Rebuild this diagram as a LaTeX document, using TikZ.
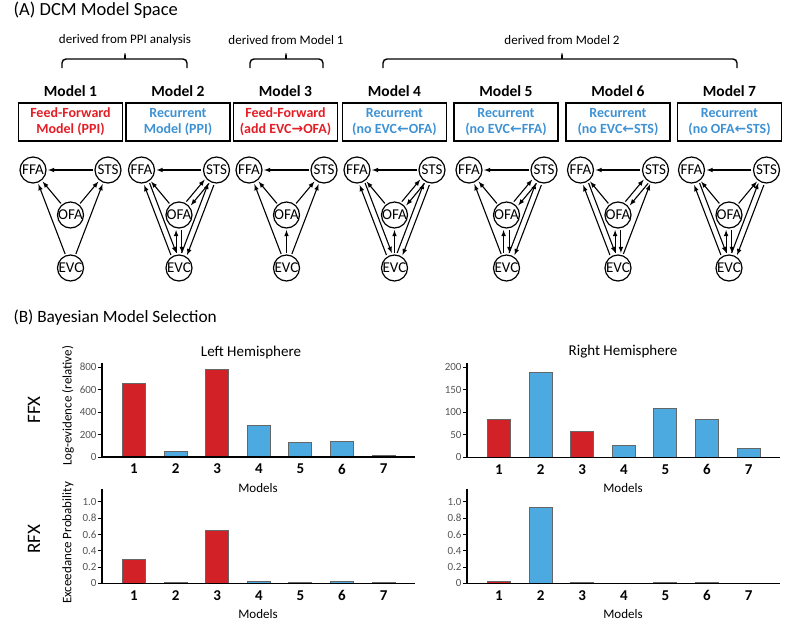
\documentclass[tikz,border=0pt]{standalone}
\usepackage{fontspec}
\setmainfont{Carlito}
\newfontfamily\arrfont{DejaVu Sans}
\usepackage{tikz}
\usetikzlibrary{calc, arrows}
\definecolor{boxred}{RGB}{228,30,38}
\definecolor{boxblue}{RGB}{62,146,212}
\definecolor{barred}{RGB}{210,34,40}
\definecolor{barblue}{RGB}{76,170,224}
\definecolor{ticktext}{RGB}{85,85,85}
\newcommand{\rarr}{{\arrfont\char"2192}}
\newcommand{\larr}{{\arrfont\char"2190}}
% Doppelverbindung (beide Richtungen)
\newcommand{\dbl}[2]{%
  \draw[conn2] ($(#1)!2.9pt!90:(#2)$) -- ($(#2)!2.9pt!-90:(#1)$);
  \draw[conn2] ($(#2)!2.9pt!90:(#1)$) -- ($(#1)!2.9pt!-90:(#2)$);}

\begin{document}
\begin{tikzpicture}[x=1pt, y=-1pt, >=latex,
				area/.style={draw, circle, line width=1.2pt, minimum size=26pt, inner sep=0pt, font=\fontsize{15}{15}\selectfont},
				conn/.style={->, line width=1.1pt, shorten >=1.5pt, shorten <=1.5pt},
				conn2/.style={->, line width=1.1pt, shorten >=15pt, shorten <=15pt},
				mbox/.style={draw, line width=1.4pt, minimum width=104pt, minimum height=38pt, align=center, inner sep=1pt, font=\bfseries\fontsize{14}{16}\selectfont},
				mtitle/.style={font=\bfseries\fontsize{15.5}{18}\selectfont},
				brace/.style={line width=1.4pt, rounded corners=4pt},
				deriv/.style={font=\fontsize{13}{15}\selectfont},
				head/.style={anchor=west, font=\fontsize{17.3}{20}\selectfont},
				bar/.style={draw=black!60, line width=0.9pt},
				axis/.style={line width=1.2pt},
				tickline/.style={line width=0.9pt},
				tick/.style={left, inner sep=1pt, text=ticktext, font=\fontsize{11}{12}\selectfont},
				num/.style={font=\bfseries\fontsize{15}{18}\selectfont},
				lbl/.style={font=\fontsize{13}{15}\selectfont},
				big/.style={rotate=90, font=\fontsize{19}{22}\selectfont}]
				\useasboundingbox (0,0) rectangle (800,625);
				% Ueberschriften
				\node[head, font=\fontsize{18.5}{21}\selectfont] (titleA) at (10,10) {(A) DCM Model Space};
				\node[head] (titleB) at (10,318) {(B) Bayesian Model Selection};
				% Klammern
				\foreach \a/\b/\m/\txt [count=\k] in {62/187/125/derived from PPI analysis, 250/323/286/derived from Model 1, 383/737/562/derived from Model 2} {
					\draw[brace] (\a,68) |- (\m-4,59) to[out=0,in=-90] (\m,51) to[out=-90,in=180] (\m+4,59) -| (\b,68);
					\node[deriv] (der\k) at (\m,40) {\txt};
				}
				% Modellboxen
				\foreach \i/\cx/\c/\txt in {1/70.5/boxred/{Feed-Forward\\Model (PPI)}, 2/178/boxblue/{Recurrent\\Model (PPI)}, 3/285.5/boxred/{Feed-Forward\\(add EVC\rarr OFA)}, 4/394.5/boxblue/{Recurrent\\(no EVC\larr OFA)}, 5/506/boxblue/{Recurrent\\(no EVC\larr FFA)}, 6/618/boxblue/{Recurrent\\(no EVC\larr STS)}, 7/729.5/boxblue/{Recurrent\\(no OFA\larr STS)}} {
					\node[mtitle] (mt\i) at (\cx,91) {Model \i};
					\node[mbox, text=\c] (box\i) at (\cx,122) {\txt};
				}
				% Netzwerke
				\foreach \i/\cx in {1/70.5,2/179,3/286.5,4/394.5,5/506.5,6/618,7/729} {
					\node[area] (ffa\i) at (\cx-37.5,170) {\makebox[0pt]{FFA}};
					\node[area] (sts\i) at (\cx+37.5,170) {\makebox[0pt]{STS}};
					\node[area] (ofa\i) at (\cx,215) {\makebox[0pt]{OFA}};
					\node[area] (evc\i) at (\cx,268) {\makebox[0pt]{EVC}};
					\draw[conn] (sts\i) -- (ffa\i);
					\draw[conn] (ofa\i) -- (ffa\i);
				}
				% Feed-Forward Modelle
				\foreach \i in {1,3} {
					\draw[conn] (ofa\i) -- (sts\i);
					\draw[conn] (evc\i) -- (ffa\i);
					\draw[conn] (evc\i) -- (sts\i);
				}
				\draw[conn] (evc3) -- (ofa3);
				% Rekurrente Modelle
				\dbl{ofa2}{sts2} \dbl{ffa2}{evc2} \dbl{ofa2}{evc2} \dbl{sts2}{evc2}
				\dbl{ofa4}{sts4} \dbl{ffa4}{evc4} \draw[conn] (evc4) -- (ofa4); \dbl{sts4}{evc4}
				\dbl{ofa5}{sts5} \draw[conn] (evc5) -- (ffa5); \dbl{ofa5}{evc5} \dbl{sts5}{evc5}
				\dbl{ofa6}{sts6} \dbl{ffa6}{evc6} \dbl{ofa6}{evc6} \draw[conn] (evc6) -- (sts6);
				\draw[conn] (ofa7) -- (sts7); \dbl{ffa7}{evc7} \dbl{ofa7}{evc7} \dbl{sts7}{evc7}
				% Achsentitel
				\node[lbl, font=\fontsize{15}{18}\selectfont] (lefthem) at (251,352) {Left Hemisphere};
				\node[lbl, font=\fontsize{15}{18}\selectfont] (righthem) at (623,352) {Right Hemisphere};
				\node[lbl, rotate=90] (ylogev) at (68,406) {Log-evidence (relative)};
				\node[lbl, rotate=90] (yexc) at (68,543) {Exceedance Probability};
				\node[big] (ffx) at (34,410) {FFX};
				\node[big] (rfx) at (34,539) {RFX};
				% Balkendiagramme
				\foreach \sx/\sy/\f/\vals/\ticks [count=\n] in {
					102/457/0.1125/{650/barred,45/barblue,775/barred,280/barblue,125/barblue,140/barblue,15/barblue}/{0,200,400,600,800},
					467/457.3/0.45/{85/barred,188/barblue,57/barred,26/barblue,108/barblue,85/barblue,19/barblue}/{0,50,100,150,200},
					102/583.3/81.6/{0.295/barred,0.012/barblue,0.645/barred,0.025/barblue,0.015/barblue,0.025/barblue,0.006/barblue}/{0,0.2,0.4,0.6,0.8,1.0},
					467/583.3/81.6/{0.02/barred,0.93/barblue,0.012/barred,0.004/barblue,0.012/barblue,0.012/barblue,0.004/barblue}/{0,0.2,0.4,0.6,0.8,1.0}} {
					\begin{scope}[shift={(\sx,\sy)}, yscale=-1]
						\foreach \v/\c [count=\i] in \vals \draw[bar, fill=\c] ({41.6*\i-21.1},0) rectangle ++(23,\v*\f);
						\draw[axis] (0,94) -- (0,0) -- (313,0);
						\foreach \t [count=\k] in \ticks \draw[tickline] (0,\t*\f) -- (-4,\t*\f) node[tick] (t\n-\k) {\t};
						\foreach \i in {1,...,7} \node[num] (x\n-\i) at ({41.6*\i-9.6},-12) {\i};
						\node[lbl] (models\n) at (156,-31) {Models};
					\end{scope}
				}
			\end{tikzpicture}
\end{document}
